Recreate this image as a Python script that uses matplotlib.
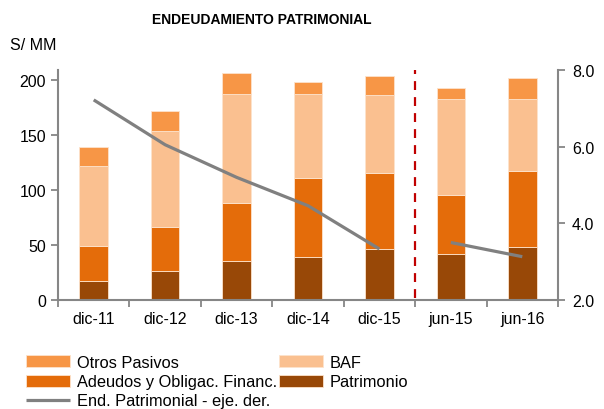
import matplotlib
matplotlib.use("Agg")
import matplotlib.pyplot as plt
import numpy as np

plt.rcParams['font.family'] = ['Liberation Sans', 'DejaVu Sans']

# datos (S/ MM y veces)
periodos = ['dic-11', 'dic-12', 'dic-13', 'dic-14', 'dic-15', 'jun-15', 'jun-16']
patrimonio = [17.5, 26, 35, 39.5, 46, 42, 48]
adeudos = [32, 40, 53, 71, 69, 53, 69.5]
baf = [72.5, 88, 99.5, 76.5, 71, 88, 65]
otros = [17, 18, 18.5, 11.5, 18, 9.5, 19.5]
endeudamiento_anual = [7.22, 6.05, 5.2, 4.46, 3.33]
endeudamiento_jun = [3.5, 3.13]

c_otros = '#F79646'
c_baf = '#FAC090'
c_adeudos = '#E46C0A'
c_patr = '#984807'
c_gris = '#868686'

fig = plt.figure(figsize=(6.04, 4.10), dpi=100)
ax = fig.add_axes([58 / 604, 1 - 301 / 410, 500 / 604, 230 / 410])
ax2 = ax.twinx()

x = np.arange(len(periodos))
w = 0.4
b1 = np.array(patrimonio)
b2 = b1 + np.array(adeudos)
b3 = b2 + np.array(baf)

kw = dict(width=w, edgecolor='#FDE3CC', linewidth=0.6)
h_patr = ax.bar(x, patrimonio, color=c_patr, label='Patrimonio', **kw)
h_ade = ax.bar(x, adeudos, bottom=b1, color=c_adeudos, label='Adeudos y Obligac. Financ.', **kw)
h_baf = ax.bar(x, baf, bottom=b2, color=c_baf, label='BAF', **kw)
h_otr = ax.bar(x, otros, bottom=b3, color=c_otros, label='Otros Pasivos', **kw)

# linea en eje derecho (dos tramos)
h_line, = ax2.plot(x[:5], endeudamiento_anual, color='#808080', lw=2.3,
                   solid_capstyle='butt', label='End. Patrimonial - eje. der.')
ax2.plot(x[5:], endeudamiento_jun, color='#808080', lw=2.3, solid_capstyle='butt')

# separador
ax.plot([4.5, 4.5], [2, 209], color='#C00000', lw=1.6, ls=(0, (4, 3.2)))

ax.set_xlim(-0.5, 6.5)
ax.set_ylim(0, 209)
ax2.set_ylim(2, 8)
ax.set_yticks([0, 50, 100, 150, 200])
ax2.set_yticks([2, 4, 6, 8])
ax2.set_yticklabels(['2.0', '4.0', '6.0', '8.0'])

ax.set_xticks(x)
ax.set_xticklabels(periodos)
ax.set_xticks(np.arange(-0.5, 7, 1), minor=True)
ax.tick_params(axis='x', which='major', length=0, pad=8)
ax.tick_params(axis='x', which='minor', length=5, color=c_gris, width=1.3)

for a in (ax, ax2):
    a.tick_params(axis='y', length=5, color=c_gris, width=1.3, labelsize=11.5)
    a.tick_params(axis='x', labelsize=11.5)
    for s in a.spines.values():
        s.set_color(c_gris)
        s.set_linewidth(1.5)
    a.spines['top'].set_visible(False)
ax2.spines['left'].set_visible(False)
ax.spines['right'].set_visible(False)
ax2.spines['bottom'].set_visible(False)
ax2.tick_params(axis='y', pad=5)

fig.text(262 / 604, 1 - 20 / 410, 'ENDEUDAMIENTO PATRIMONIAL', ha='center', va='center',
         fontsize=10, fontweight='bold')
fig.text(10 / 604, 1 - 45 / 410, 'S/ MM', ha='left', va='center', fontsize=11.5)

fig.legend([h_otr, h_ade, h_line, h_baf, h_patr],
           ['Otros Pasivos', 'Adeudos y Obligac. Financ.', 'End. Patrimonial - eje. der.',
            'BAF', 'Patrimonio'],
           ncol=2, loc='upper left', bbox_to_anchor=(18 / 604, 1 - 348 / 410),
           frameon=False, fontsize=11.8, handlelength=2.7, handleheight=0.75,
           handletextpad=0.4, columnspacing=0.1, labelspacing=0.25, borderpad=0)

fig.savefig('out.png', dpi=100)
